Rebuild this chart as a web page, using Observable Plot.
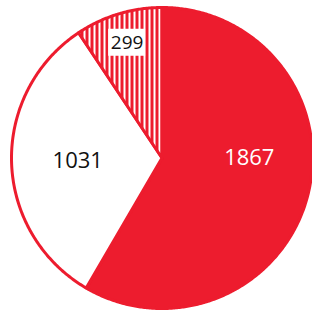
<!DOCTYPE html>
<html>
<head>
<meta charset="utf-8">
<script src="https://cdn.jsdelivr.net/npm/d3@7"></script>
<script src="https://cdn.jsdelivr.net/npm/@observablehq/plot@0.6"></script>
<style>
  html, body { margin: 0; padding: 0; background: #fff; }
</style>
</head>
<body>
<div id="chart"></div>
<script>
// Data
const categories = ["A", "B", "C"];
const values = [1867, 1031, 299];
const labels = ["1867", "1031", "299"];
const fills = ["#ED1C2E", "#ffffff", "url(#stripes)"];
const labelColors = ["#ffffff", "#111111", "#111111"];
const labelRadius = [0.58, 0.56, 0.80];
const labelSizes = [22, 22, 19];
const labelBoxed = [false, false, true];

const RED = "#ED1C2E";
const total = d3.sum(values);

// Build slice polygons (angle clockwise from 12 o'clock, unit radius)
let acc = 0;
const slices = values.map((v, i) => {
  const a0 = acc / total * 2 * Math.PI;
  acc += v;
  const a1 = acc / total * 2 * Math.PI;
  const n = Math.max(4, Math.ceil((a1 - a0) / (Math.PI / 360)));
  const pts = [{x: 0, y: 0}];
  for (let k = 0; k <= n; k++) {
    const a = a0 + (a1 - a0) * k / n;
    pts.push({x: Math.sin(a), y: Math.cos(a)});
  }
  pts.push({x: 0, y: 0});
  const la = (a0 + Math.min(a1, a0 + Math.PI)) / 2;
  return {
    i, pts,
    lx: labelRadius[i] * Math.sin(la),
    ly: labelRadius[i] * Math.cos(la)
  };
});

const labelData = slices.map(s => ({
  x: s.lx, y: s.ly, text: labels[s.i], color: labelColors[s.i],
  size: labelSizes[s.i], boxed: labelBoxed[s.i]
}));

const R = 150.5;
const W = 312, H = 313;
const cx = 161.5, cy = 157.5;

const marks = [];
slices.forEach(s => {
  marks.push(Plot.line(s.pts, {
    x: "x", y: "y", fill: fills[s.i], stroke: RED, strokeWidth: 3,
    strokeLinejoin: "round", curve: "linear"
  }));
});
// white boxes behind boxed labels
const boxHalfW = 18.5 / R, boxHalfH = 13.5 / R;
marks.push(Plot.rect(labelData.filter(d => d.boxed), {
  x1: d => d.x - boxHalfW, x2: d => d.x + boxHalfW,
  y1: d => d.y - boxHalfH, y2: d => d.y + boxHalfH,
  fill: "#ffffff"
}));
labelData.forEach(d => {
  marks.push(Plot.text([d], {
    x: "x", y: "y", text: "text", fill: d.color, fontSize: d.size,
    fontFamily: "'Open Sans', sans-serif", textAnchor: "middle", lineAnchor: "middle"
  }));
});

const plot = Plot.plot({
  width: W, height: H,
  margin: 0,
  x: {domain: [-cx / R, (W - cx) / R], range: [0, W], axis: null},
  y: {domain: [-(H - cy) / R, cy / R], range: [H, 0], axis: null},
  style: {background: "#fff", overflow: "visible"},
  marks
});

// stripe pattern definition
const ns = "http://www.w3.org/2000/svg";
const defs = document.createElementNS(ns, "defs");
defs.innerHTML = `<pattern id="stripes" patternUnits="userSpaceOnUse" width="5" height="10">
  <rect x="0" y="0" width="5" height="10" fill="#ffffff"></rect>
  <rect x="0" y="0" width="3" height="10" fill="${RED}"></rect>
</pattern>`;
plot.insertBefore(defs, plot.firstChild);

document.getElementById("chart").appendChild(plot);
</script>
</body>
</html>
